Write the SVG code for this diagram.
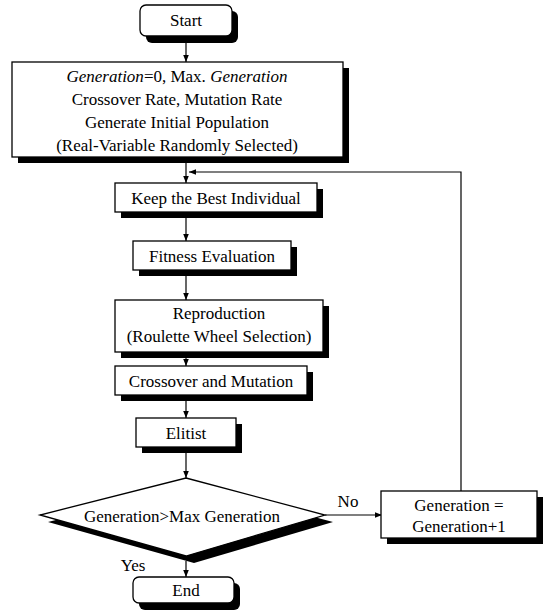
<svg xmlns="http://www.w3.org/2000/svg" width="547" height="614" viewBox="0 0 547 614">
<style>
.box{fill:#fff;stroke:#000;stroke-width:1.3}
.sh{fill:#000}
.t{font-size:17px;fill:#000;text-anchor:middle}
.ln{fill:none;stroke:#000;stroke-width:1.2}
</style>
<defs>
<marker id="ah" viewBox="0 0 10 10" refX="10" refY="5" markerWidth="7" markerHeight="7" orient="auto" markerUnits="userSpaceOnUse">
<path d="M0,1 L10,5 L0,9 z" fill="#000"/>
</marker>
</defs>
<rect width="547" height="614" fill="#fff"/>
<g font-family="Liberation Serif, DejaVu Serif, serif">
<g id="connectors">
<line class="ln" x1="186" y1="36" x2="186" y2="62" marker-end="url(#ah)"/>
<line class="ln" x1="186" y1="163" x2="186" y2="183" marker-end="url(#ah)"/>
<polyline class="ln" points="461,491 461,172 189,172" marker-end="url(#ah)"/>
<line class="ln" x1="186" y1="218" x2="186" y2="241" marker-end="url(#ah)"/>
<line class="ln" x1="186" y1="276" x2="186" y2="300" marker-end="url(#ah)"/>
<line class="ln" x1="186" y1="358" x2="186" y2="366" marker-end="url(#ah)"/>
<line class="ln" x1="186" y1="401" x2="186" y2="418" marker-end="url(#ah)"/>
<line class="ln" x1="186" y1="453" x2="186" y2="478" marker-end="url(#ah)"/>
<line class="ln" x1="325" y1="515" x2="382" y2="515" marker-end="url(#ah)"/>
<line class="ln" x1="186" y1="561" x2="186" y2="577" marker-end="url(#ah)"/>
<text class="t" x="348" y="507">No</text>
<text class="t" x="133" y="571">Yes</text>
</g>
<g id="start">
<rect class="sh" x="146" y="11" width="92" height="32" rx="6"/>
<rect class="box" x="140" y="5" width="92" height="31" rx="6"/>
<text class="t" x="186" y="26">Start</text>
</g>
<g id="init">
<rect class="sh" x="18" y="68" width="331" height="95"/>
<rect class="box" x="12" y="62" width="331" height="95"/>
<text class="t" x="177" y="82"><tspan font-style="italic">Generation</tspan>=0, Max. <tspan font-style="italic">Generation</tspan></text>
<text class="t" x="177" y="105">Crossover Rate, Mutation Rate</text>
<text class="t" x="177" y="128">Generate Initial Population</text>
<text class="t" x="177" y="151">(Real-Variable Randomly Selected)</text>
</g>
<g id="keep">
<rect class="sh" x="121" y="189" width="202" height="29"/>
<rect class="box" x="115" y="183" width="202" height="29"/>
<text class="t" x="216" y="204">Keep the Best Individual</text>
</g>
<g id="fitness">
<rect class="sh" x="139" y="247" width="158" height="29"/>
<rect class="box" x="133" y="241" width="158" height="29"/>
<text class="t" x="212" y="262">Fitness Evaluation</text>
</g>
<g id="reproduction">
<rect class="sh" x="121" y="306" width="208" height="52"/>
<rect class="box" x="115" y="300" width="208" height="52"/>
<text class="t" x="219" y="319">Reproduction</text>
<text class="t" x="219" y="342">(Roulette Wheel Selection)</text>
</g>
<g id="crossover">
<rect class="sh" x="121" y="372" width="192" height="29"/>
<rect class="box" x="115" y="366" width="192" height="29"/>
<text class="t" x="211" y="387">Crossover and Mutation</text>
</g>
<g id="elitist">
<rect class="sh" x="142" y="424" width="100" height="29"/>
<rect class="box" x="136" y="418" width="100" height="29"/>
<text class="t" x="186" y="439">Elitist</text>
</g>
<g id="decision">
<polygon class="sh" points="194,485 333,522 194,563 48,522"/>
<polygon class="box" points="186,478 325,515 186,556 40,515"/>
<text class="t" x="182" y="522">Generation&gt;Max Generation</text>
</g>
<g id="increment">
<rect class="sh" x="387" y="497" width="156" height="47"/>
<rect class="box" x="381" y="491" width="156" height="47"/>
<text class="t" x="459" y="511">Generation =</text>
<text class="t" x="459" y="532">Generation+1</text>
</g>
<g id="end">
<rect class="sh" x="139" y="583" width="101" height="27" rx="6"/>
<rect class="box" x="133" y="577" width="101" height="26" rx="6"/>
<text class="t" x="186" y="596">End</text>
</g>
</g>
</svg>
